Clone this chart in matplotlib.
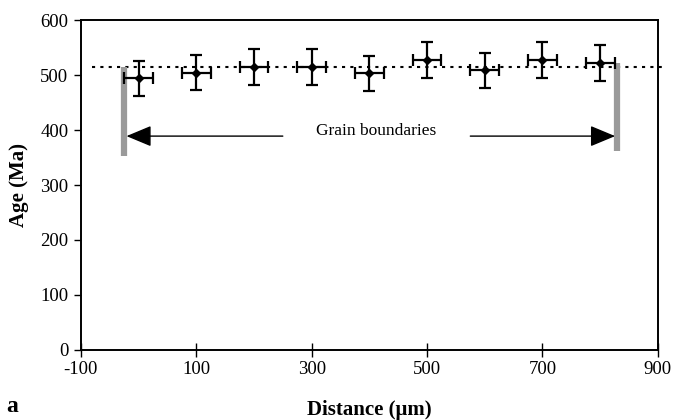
import numpy as np
import matplotlib.pyplot as plt

plt.rcParams.update(
    {
        "font.family": "Liberation Serif",
        "font.size": 13,
        "axes.unicode_minus": False,
    }
)

# spot analyses along the traverse
distance = [0, 100, 200, 300, 400, 500, 600, 700, 800]
age = [494, 504, 515, 515, 503, 528, 509, 527, 522]
age_err = [32, 32, 33, 33, 32, 33, 32, 33, 33]
dist_err = [25, 25, 25, 25, 25, 25, 25, 25, 25]

mean_age = 515
boundary_x = [-25, 830]
boundary_top = [515, 522]
boundary_bottom = [353, 362]
arrow_y = 389
arrow_tails = [250, 575]

fig = plt.figure(figsize=(6.74, 4.2), dpi=100)
ax = fig.add_axes([0.120, 0.167, 0.856, 0.785])

# mean age line, runs a little past the right frame
ax.plot([-80, 915], [mean_age, mean_age], color="black",
        linestyle=(0, (1.5, 2.5)), lw=1.5, clip_on=False, zorder=1)

ax.errorbar(distance, age, yerr=age_err, xerr=dist_err, fmt="D", color="black",
            ms=4.5, elinewidth=1.6, capsize=4.5, capthick=1.6, zorder=4)

# grain boundary markers
for bx, top, bot in zip(boundary_x, boundary_top, boundary_bottom):
    ax.plot([bx, bx], [bot, top], color="#9a9a9a", lw=4.5, solid_capstyle="butt",
            zorder=3)

for tail, bx, sgn in zip(arrow_tails, boundary_x, [1, -1]):
    ax.annotate("", xy=(bx + sgn * 4, arrow_y), xytext=(tail, arrow_y),
                arrowprops=dict(arrowstyle="-|>,head_length=1.2,head_width=0.5",
                                color="black", lw=1.0, shrinkA=0, shrinkB=0))
ax.text(412, 398, "Grain boundaries", ha="center", va="center", fontsize=12.5)

ax.set_xlim(-100, 900)
ax.set_ylim(0, 600)
ax.set_xticks([-100, 100, 300, 500, 700, 900])
ax.set_yticks([0, 100, 200, 300, 400, 500, 600])
ax.tick_params(axis="y", direction="out", length=5, width=1, labelsize=13.5, pad=4)
ax.tick_params(axis="x", direction="inout", length=10, width=1, labelsize=13.5, pad=3)
for s in ax.spines.values():
    s.set_linewidth(1.4)

ax.set_xlabel("Distance (μm)", fontweight="bold", fontsize=15, labelpad=16)
ax.set_ylabel("Age (Ma)", fontweight="bold", fontsize=15, labelpad=8)
fig.text(0.010, 0.018, "a", fontweight="bold", fontsize=17)

fig.savefig("out.png", dpi=100)
